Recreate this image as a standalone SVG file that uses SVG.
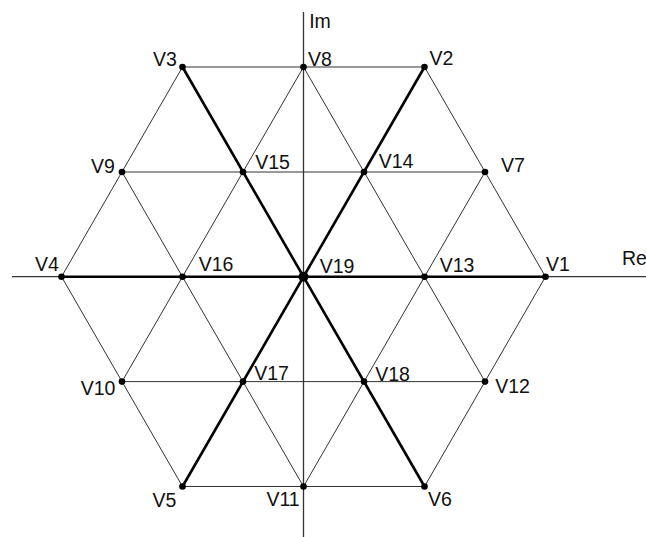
<svg xmlns="http://www.w3.org/2000/svg" width="646" height="537" viewBox="0 0 646 537">
<style>
.axis{stroke:#333;stroke-width:1.3;fill:none}
.thin{stroke:#333;stroke-width:1;fill:none}
.thick{stroke:#000;stroke-width:2.6;fill:none}
.dot{fill:#000}
text{font-family:"Liberation Sans",Arial,sans-serif;font-size:19.5px;fill:#111;text-anchor:middle}
</style>
<rect width="646" height="537" fill="#fff"/>
<g id="connectors">
<line class="axis" x1="303.5" y1="12" x2="303.5" y2="537"/>
<line class="axis" x1="12" y1="276.7" x2="646" y2="276.7"/>
<polyline class="thin" points="182.5,67 424.5,67 545.5,276.7 424.5,486.5 182.5,486.5 61.5,276.7 182.5,67"/>
<line class="thin" x1="122" y1="172" x2="485" y2="172"/>
<line class="thin" x1="122" y1="381.6" x2="485" y2="381.6"/>
<line class="thin" x1="122" y1="381.6" x2="303.5" y2="67"/>
<line class="thin" x1="303.5" y1="486.5" x2="485" y2="172"/>
<line class="thin" x1="485" y1="381.6" x2="303.5" y2="67"/>
<line class="thin" x1="303.5" y1="486.5" x2="122" y2="172"/>
<line class="thick" x1="61.5" y1="276.7" x2="545.5" y2="276.7"/>
<line class="thick" x1="182.5" y1="67" x2="424.5" y2="486.5"/>
<line class="thick" x1="182.5" y1="486.5" x2="424.5" y2="67"/>
</g>
<g id="axis-labels">
<text x="320" y="28">Im</text>
<text x="622" y="265" style="text-anchor:start">Re</text>
</g>
<g id="V1"><circle class="dot" cx="545.5" cy="276.7" r="3.3"/><text x="558" y="271">V1</text></g>
<g id="V2"><circle class="dot" cx="424.5" cy="67" r="3.3"/><text x="441.5" y="65">V2</text></g>
<g id="V3"><circle class="dot" cx="182.5" cy="67" r="3.3"/><text x="165" y="66">V3</text></g>
<g id="V4"><circle class="dot" cx="61.5" cy="276.7" r="3.3"/><text x="47" y="271">V4</text></g>
<g id="V5"><circle class="dot" cx="182.5" cy="486.5" r="3.3"/><text x="164.5" y="507">V5</text></g>
<g id="V6"><circle class="dot" cx="424.5" cy="486.5" r="3.3"/><text x="440" y="506">V6</text></g>
<g id="V7"><circle class="dot" cx="485" cy="172" r="3.3"/><text x="513" y="172">V7</text></g>
<g id="V8"><circle class="dot" cx="303.5" cy="67" r="3.3"/><text x="320" y="66">V8</text></g>
<g id="V9"><circle class="dot" cx="122" cy="172" r="3.3"/><text x="103" y="173">V9</text></g>
<g id="V10"><circle class="dot" cx="122" cy="381.6" r="3.3"/><text x="98" y="395">V10</text></g>
<g id="V11"><circle class="dot" cx="303.5" cy="486.5" r="3.3"/><text x="283" y="506">V11</text></g>
<g id="V12"><circle class="dot" cx="485" cy="381.6" r="3.3"/><text x="512.5" y="393">V12</text></g>
<g id="V13"><circle class="dot" cx="424.5" cy="276.7" r="3.3"/><text x="457" y="272">V13</text></g>
<g id="V14"><circle class="dot" cx="364" cy="172" r="3.3"/><text x="396" y="168">V14</text></g>
<g id="V15"><circle class="dot" cx="243" cy="172" r="3.3"/><text x="272.5" y="169">V15</text></g>
<g id="V16"><circle class="dot" cx="182.5" cy="276.7" r="3.3"/><text x="216" y="271">V16</text></g>
<g id="V17"><circle class="dot" cx="243" cy="381.6" r="3.3"/><text x="271.5" y="380">V17</text></g>
<g id="V18"><circle class="dot" cx="364" cy="381.6" r="3.3"/><text x="392.5" y="381">V18</text></g>
<g id="V19"><circle class="dot" cx="303.5" cy="276.7" r="5"/><text x="337" y="273">V19</text></g>
</svg>
